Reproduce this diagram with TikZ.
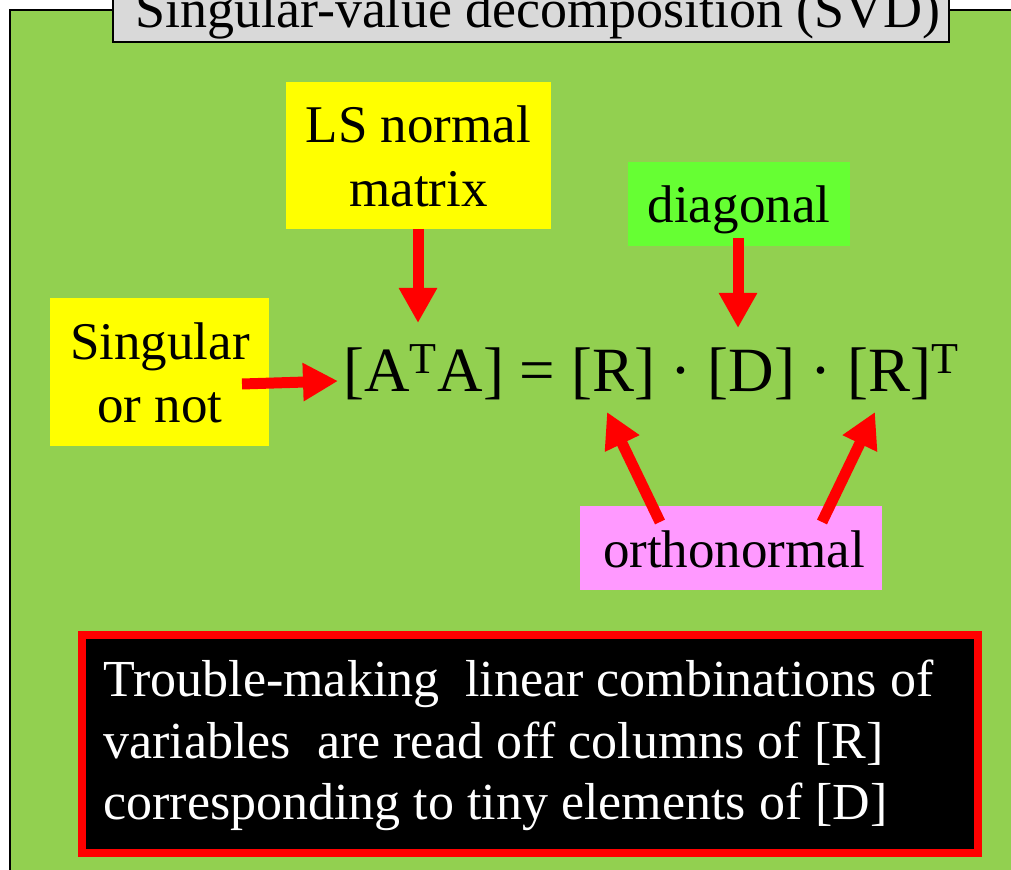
\documentclass[tikz,border=0pt]{standalone}
\usepackage{fontspec}
\setmainfont{Liberation Serif}
\usetikzlibrary{arrows.meta}
\definecolor{panelgreen}{HTML}{92D050}
\definecolor{diaggreen}{HTML}{66FF33}
\definecolor{pinkbox}{HTML}{FF99FF}
\definecolor{titlegray}{HTML}{D9D9D9}
\definecolor{yellowbox}{HTML}{FFFF00}
\definecolor{redarrow}{HTML}{FF0000}
\tikzset{
  box/.style={rectangle, inner sep=0pt, draw=none},
  lbl/.style={anchor=base, inner sep=0pt, font=\fontsize{26.5pt}{31pt}\selectfont},
  wlbl/.style={anchor=base west, inner sep=0pt, text=white, font=\fontsize{26pt}{31pt}\selectfont},
  bigarrow/.style={draw=redarrow, line width=5.5pt, -{Triangle[length=17.5pt,width=18pt]}, fill=redarrow},
}
\begin{document}
\begin{tikzpicture}[x=0.5pt,y=-0.5pt]
\useasboundingbox (0,0) rectangle (1011,870);
\clip (0,0) rectangle (1011,870);
\fill[white] (0,0) rectangle (1011,870);
% panel
\draw[fill=panelgreen, line width=1pt] (10,10) rectangle (1040,900);
% title
\node[box, draw=black, line width=0.75pt, fill=titlegray, minimum width=418pt, minimum height=26pt] (title) at (531,16) {};
\node[lbl, font=\fontsize{27pt}{32pt}\selectfont] (titletext) at (538,28) {Singular-value decomposition (SVD)};
% boxes
\node[box, fill=yellowbox, minimum width=132.5pt, minimum height=73.5pt] (ls) at (418.5,155.5) {};
\node[lbl] (ls1) at (418.5,143) {LS normal};
\node[lbl] (ls2) at (418.5,207) {matrix};
\node[box, fill=yellowbox, minimum width=109.5pt, minimum height=74pt] (sing) at (159.5,372) {};
\node[lbl] (sing1) at (160,360) {Singular};
\node[lbl] (sing2) at (160,423) {or not};
\node[box, fill=diaggreen, minimum width=111pt, minimum height=42pt] (diag) at (739,204) {};
\node[lbl] (diagt) at (739,223) {diagonal};
\node[box, fill=pinkbox, minimum width=151pt, minimum height=42pt] (ortho) at (731,548) {};
\node[lbl] (orthot) at (734,568) {orthonormal};
% equation
\node[anchor=base west, inner sep=0pt, font=\fontsize{31.5pt}{36pt}\selectfont] (eq) at (343,392)
  {[A\textsuperscript{T}A] = [R] · [D] · [R]\textsuperscript{T}};
% arrow endpoints
\coordinate (lsbot) at (418,229);
\coordinate (tipA) at (418,323);
\coordinate (singR) at (242,384);
\coordinate (tipB) at (338,381);
\coordinate (diagbot) at (738,238);
\coordinate (tipC) at (738,328);
\coordinate (orthoL) at (660,522);
\coordinate (tipD) at (607,412);
\coordinate (orthoR) at (822,522);
\coordinate (tipE) at (875,412);
\draw[bigarrow] (lsbot) -- (tipA);
\draw[bigarrow] (singR) -- (tipB);
\draw[bigarrow] (diagbot) -- (tipC);
\draw[bigarrow] (orthoL) -- (tipD);
\draw[bigarrow] (orthoR) -- (tipE);
% bottom box
\node[box, draw=redarrow, line width=4pt, fill=black, minimum width=448pt, minimum height=109pt] (note) at (530,744) {};
\node[wlbl] (note1) at (103,697) {Trouble-making\ \ linear combinations of};
\node[wlbl] (note2) at (103,758) {variables\ \ are read off columns of [R]};
\node[wlbl] (note3) at (103,819) {corresponding to tiny elements of [D]};
\end{tikzpicture}
\end{document}
